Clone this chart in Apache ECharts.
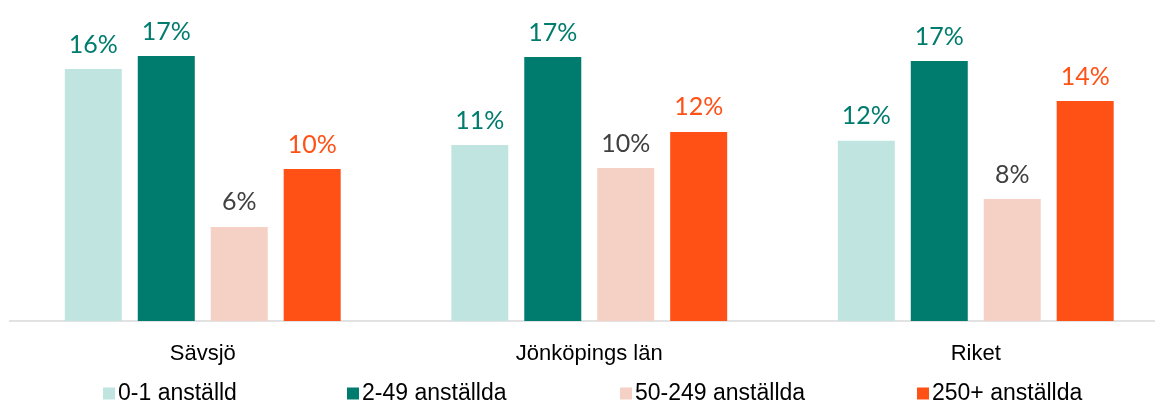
<!DOCTYPE html>
<html>
<head>
<meta charset="utf-8">
<script src="https://cdn.jsdelivr.net/npm/echarts@6/dist/echarts.min.js"></script>
<style>html,body{margin:0;padding:0;background:#fff;overflow:hidden;width:1155px;height:401px;}#c{width:1170px;height:401px;}</style>
</head>
<body>
<div id="c"></div>
<script>
const categories = ['Sävsjö', 'Jönköpings län', 'Riket'];
const seriesNames = ['0-1 anställd', '2-49 anställda', '50-249 anställda', '250+ anställda'];
const v01 = [16.15, 11.28, 11.55];
const v249 = [16.99, 16.92, 16.67];
const v50249 = [6.03, 9.81, 7.82];
const v250 = [9.74, 12.12, 14.10];
const seriesValues = [v01, v249, v50249, v250];
const barColors = ['#C0E5E0', '#007C6E', '#F5D0C4', '#FF5116'];
const labelColors = ['#007C6E', '#007C6E', '#404040', '#FF5116'];
const legendLefts = [98, 342, 615, 912];

const chart = echarts.init(document.getElementById('c'));
const series = seriesNames.map((name, i) => ({
  name: name,
  type: 'bar',
  data: seriesValues[i],
  barWidth: 57,
  barGap: '28%',
  itemStyle: { color: barColors[i] },
  label: {
    show: true,
    position: 'top',
    distance: 12,
    formatter: p => Math.round(p.value) + '%',
    color: labelColors[i],
    fontFamily: 'Lato',
    fontSize: 25
  }
}));
const legends = seriesNames.map((name, i) => ({
  data: [name],
  left: legendLefts[i],
  top: 377,
  itemWidth: 12,
  itemHeight: 12,
  itemGap: 0,
  icon: 'rect',
  textStyle: { fontFamily: 'Liberation Sans', fontSize: 23, color: '#000', padding: [0, 0, 0, -2] }
}));
chart.setOption({
  animation: false,
  legend: legends,
  grid: { left: 9.5, right: 1, top: 9, height: 312, containLabel: false },
  xAxis: {
    type: 'category',
    data: categories,
    axisLine: { lineStyle: { color: '#D9D9D9', width: 1.5 } },
    axisTick: { show: false },
    axisLabel: { fontFamily: 'Liberation Sans', fontSize: 22, color: '#000', margin: 22 }
  },
  yAxis: { type: 'value', min: 0, max: 20, show: false, splitLine: { show: false } },
  series: series
});
</script>
</body>
</html>
